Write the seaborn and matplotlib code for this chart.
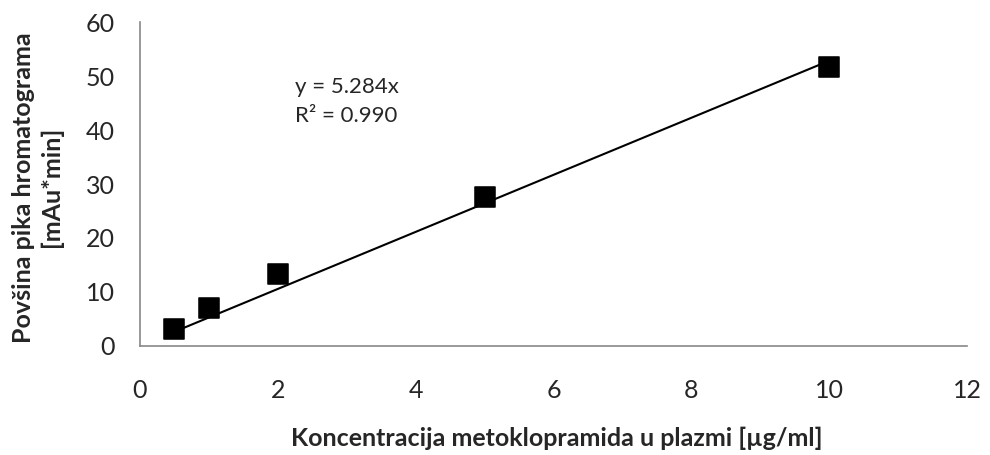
import matplotlib
matplotlib.use("Agg")
import matplotlib.pyplot as plt
import seaborn as sns
import numpy as np
import pandas as pd

conc = [0.5, 1, 2, 5, 10]
area = [3.1, 7.1, 13.3, 27.6, 51.6]
slope = 5.284
r2_text = "R² = 0.990"
eq_text = "y = 5.284x"
x_ticks = [0, 2, 4, 6, 8, 10, 12]
y_ticks = [0, 10, 20, 30, 40, 50, 60]

sns.set_theme(style="white")
plt.rcParams['font.family'] = ['Lato', 'DejaVu Sans']

df = pd.DataFrame({"conc": conc, "area": area})
fit_x = np.array([min(conc), max(conc)])
fit_df = pd.DataFrame({"conc": fit_x, "area": slope * fit_x})

fig = plt.figure(figsize=(9.9, 4.55), dpi=100)
ax = fig.add_axes([0.1414, 0.2396, 0.977 - 0.1414, 0.9516 - 0.2396])

sns.lineplot(data=fit_df, x="conc", y="area", ax=ax, color="black", linewidth=1.5)
sns.scatterplot(data=df, x="conc", y="area", ax=ax, marker="s", s=200,
                color="black", edgecolor="black", zorder=3)

ax.set_xlim(0, 12)
ax.set_ylim(0, 60)
ax.set_xticks(x_ticks)
ax.set_yticks(y_ticks)
ax.tick_params(axis="x", labelsize=18, length=0, pad=24)
ax.tick_params(axis="y", labelsize=18, length=0, pad=18)
for side in ["top", "right"]:
    ax.spines[side].set_visible(False)
for side in ["left", "bottom"]:
    ax.spines[side].set_color("#888888")
    ax.spines[side].set_linewidth(1.2)

ax.set_xlabel("Koncentracija metoklopramida u plazmi [µg/ml]", fontsize=18,
              fontweight="bold")
ax.set_ylabel("Povšina pika hromatograma\n[mAu*min]", fontsize=18,
              fontweight="bold", linespacing=1.2)
ax.xaxis.set_label_coords(0.504, -0.284)
ax.xaxis.label.set_va("center")
ax.yaxis.set_label_coords(-0.124, 0.49)
ax.yaxis.label.set_va("center")
ax.yaxis.label.set_ha("center")

ax.text(2.25, 48.0, eq_text, fontsize=16, ha="left", va="center")
ax.text(2.25, 42.6, r2_text, fontsize=16, ha="left", va="center")

fig.savefig("out.png", dpi=100)
